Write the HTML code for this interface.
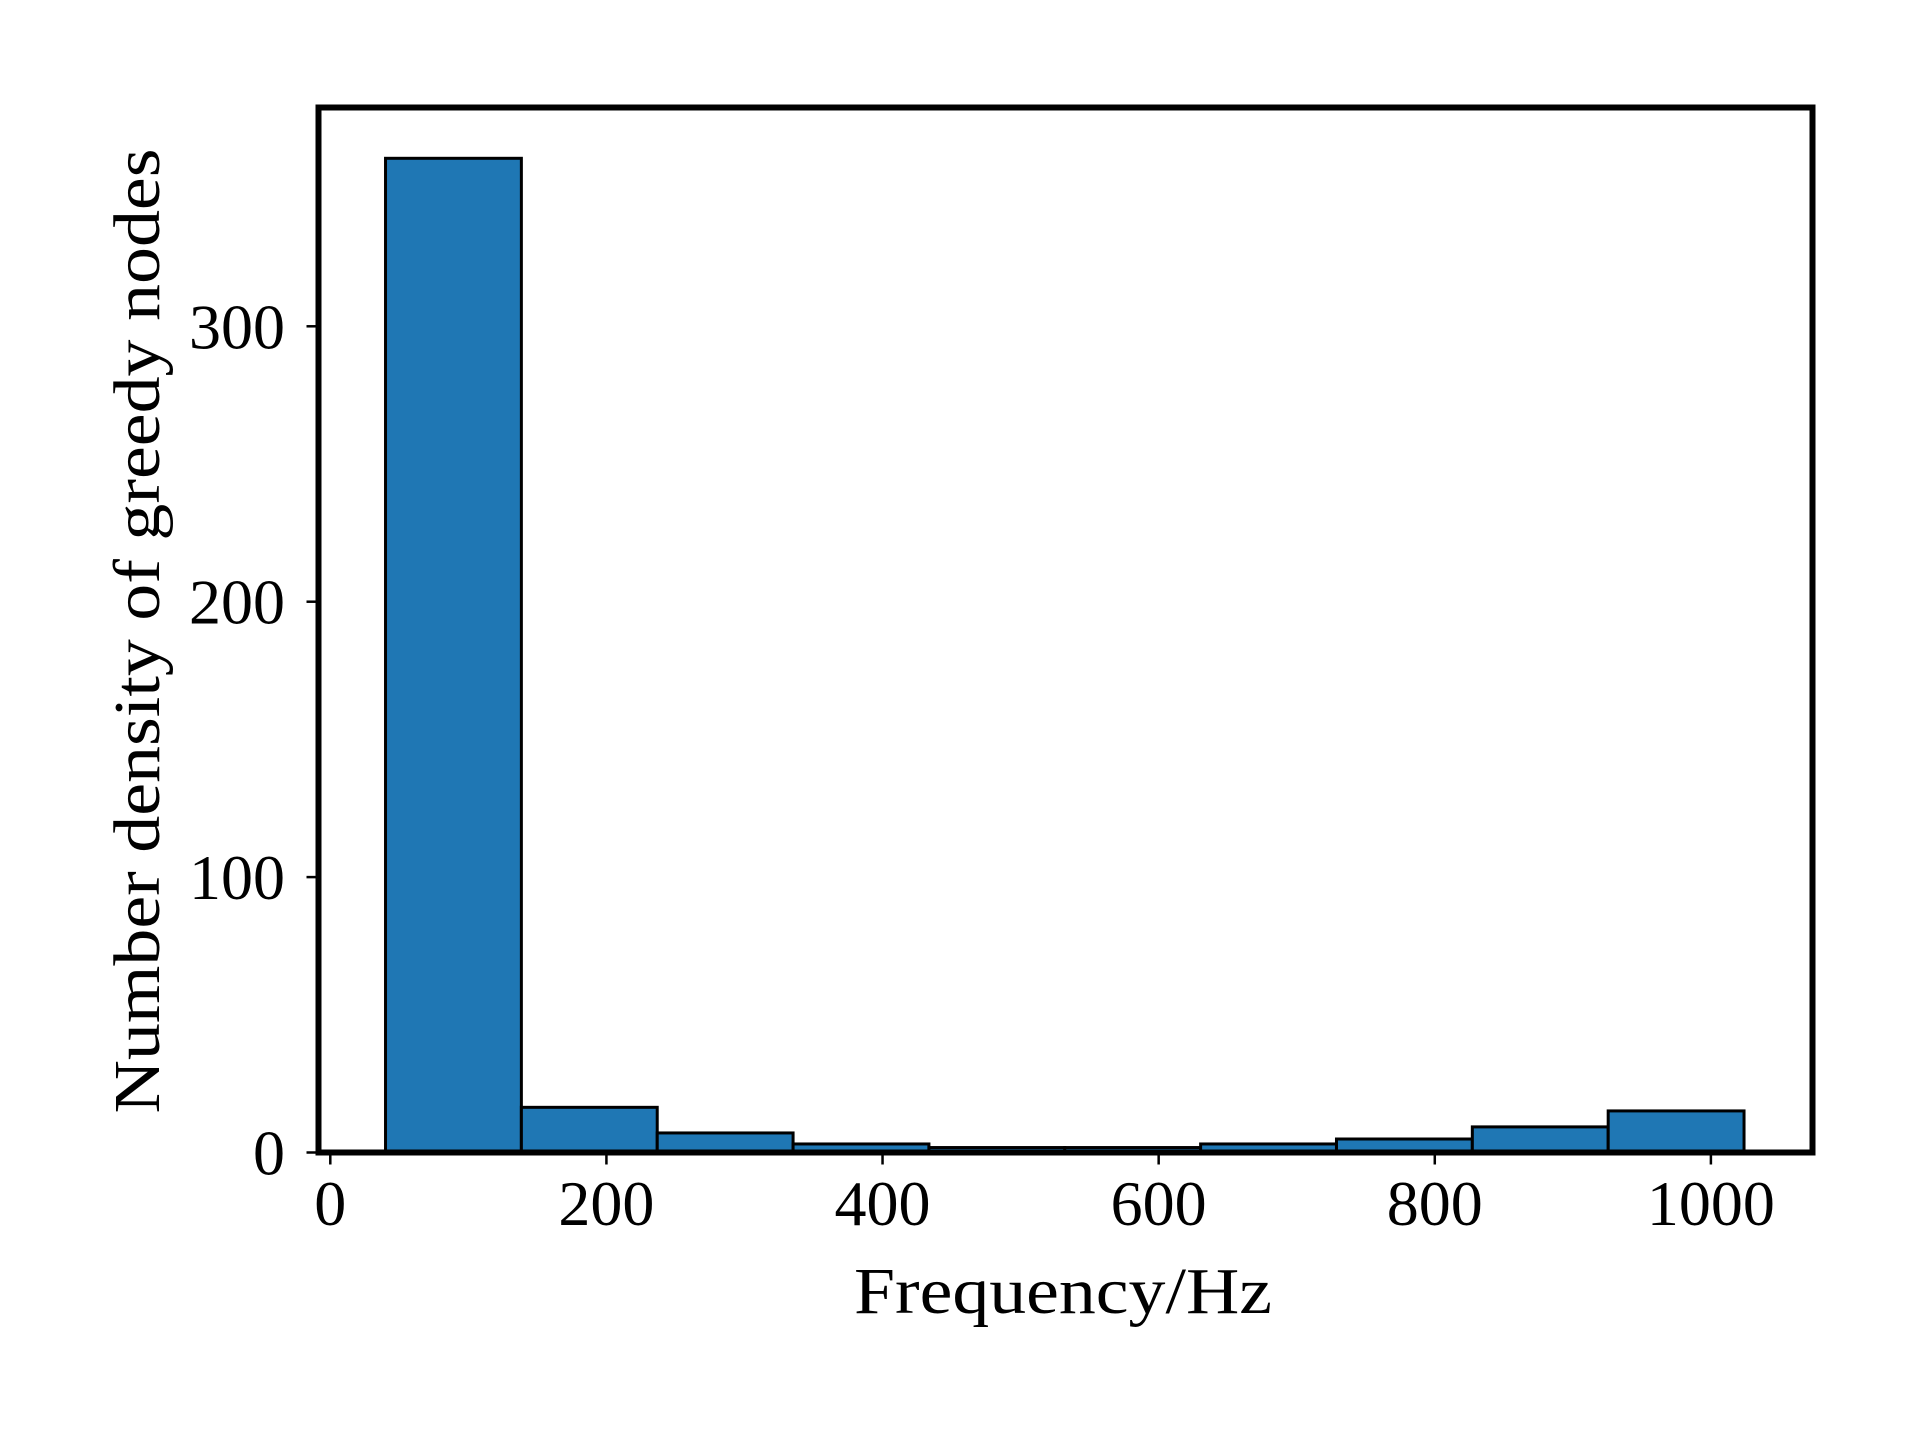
<!DOCTYPE html>
<html><head><meta charset="utf-8"><style>
html,body{margin:0;padding:0;background:#fff;}
svg{display:block;}
text{font-family:"Liberation Serif","DejaVu Serif",serif;fill:#000;}
</style></head><body>
<svg id="chart" width="1920" height="1440" viewBox="0 0 1920 1440">
<rect x="0" y="0" width="1920" height="1440" fill="#fff"/>
<g id="bars"></g>
<g id="xticks"></g>
<g id="yticks"></g>
<rect x="318.5" y="107.5" width="1494" height="1045" fill="none" stroke="#000" stroke-width="6"/>
<text x="1063" y="1313" font-size="66" text-anchor="middle" textLength="418" lengthAdjust="spacingAndGlyphs">Frequency/Hz</text>
<text transform="translate(159,631) rotate(-90)" font-size="66" text-anchor="middle" textLength="965" lengthAdjust="spacingAndGlyphs">Number density of greedy nodes</text>
</svg>
<script>
const binEdges = [40, 138.4, 236.8, 335.2, 433.6, 532, 630.4, 728.8, 827.2, 925.6, 1024];
const counts = [361, 16.4, 7.1, 3.1, 1.8, 1.8, 3.1, 4.9, 9.3, 15.1];
const xTickValues = [0, 200, 400, 600, 800, 1000];
const xTickLabels = ["0", "200", "400", "600", "800", "1000"];
const yTickValues = [0, 100, 200, 300];
const yTickLabels = ["0", "100", "200", "300"];

const NS = "http://www.w3.org/2000/svg";
const X0 = 330.3, XK = 1.3806, Y0 = 1152.5, YK = 2.754;
function xs(v){return X0 + v*XK;}
function ys(v){return Y0 - v*YK;}

const bars = document.getElementById('bars');
for (let i = 0; i < counts.length; i++) {
  const r = document.createElementNS(NS, 'rect');
  r.setAttribute('x', xs(binEdges[i]));
  r.setAttribute('y', ys(counts[i]));
  r.setAttribute('width', xs(binEdges[i+1]) - xs(binEdges[i]));
  r.setAttribute('height', Y0 - ys(counts[i]));
  r.setAttribute('fill', '#1f77b4');
  r.setAttribute('stroke', '#000');
  r.setAttribute('stroke-width', '3');
  
  
  bars.appendChild(r);
}
const xt = document.getElementById('xticks');
xTickValues.forEach((v, i) => {
  const l = document.createElementNS(NS, 'line');
  l.setAttribute('x1', xs(v)); l.setAttribute('x2', xs(v));
  l.setAttribute('y1', Y0); l.setAttribute('y2', Y0 + 12);
  l.setAttribute('stroke', '#000'); l.setAttribute('stroke-width', '2.5');
  
  
  xt.appendChild(l);
  const t = document.createElementNS(NS, 'text');
  t.setAttribute('x', xs(v)); t.setAttribute('y', 1225);
  t.setAttribute('font-size', '64'); t.setAttribute('text-anchor', 'middle');
  t.textContent = xTickLabels[i];
  
  
  xt.appendChild(t);
});
const yt = document.getElementById('yticks');
yTickValues.forEach((v, i) => {
  const l = document.createElementNS(NS, 'line');
  l.setAttribute('x1', 306.5); l.setAttribute('x2', 318.5);
  l.setAttribute('y1', ys(v)); l.setAttribute('y2', ys(v));
  l.setAttribute('stroke', '#000'); l.setAttribute('stroke-width', '2.5');
  
  
  yt.appendChild(l);
  const t = document.createElementNS(NS, 'text');
  t.setAttribute('x', 285); t.setAttribute('y', ys(v) + 22);
  t.setAttribute('font-size', '64'); t.setAttribute('text-anchor', 'end');
  t.textContent = yTickLabels[i];
  
  
  yt.appendChild(t);
});
</script>
</body></html>
